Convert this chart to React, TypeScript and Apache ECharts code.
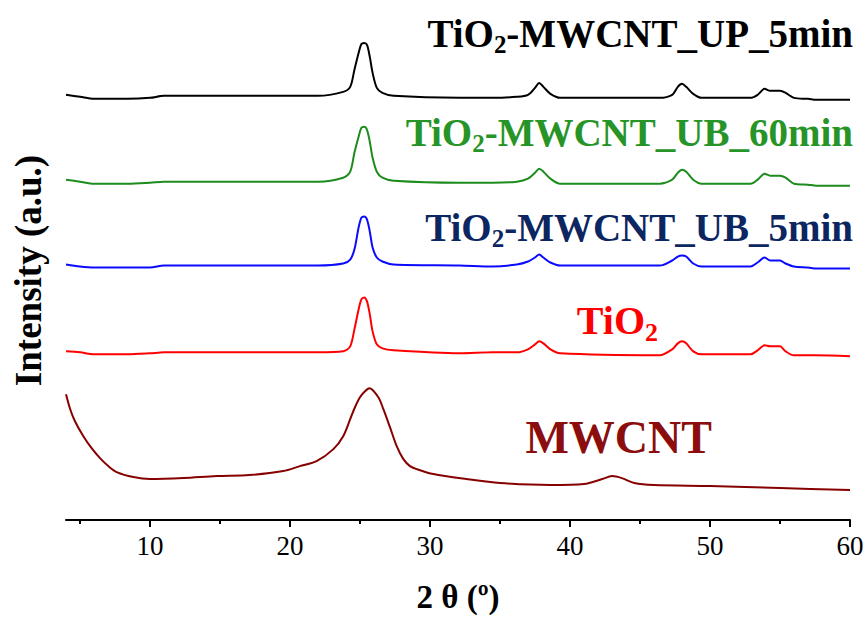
import React, { useEffect, useRef } from "react";
import * as echarts from "echarts";

const FONT = "Liberation Serif, Times New Roman, serif";

// 2θ positions (degrees) sampled for the four TiO2-containing patterns
const tioTheta = [4.0, 5.0, 6.0, 8.4, 10.0, 11.0, 16.0, 22.0, 23.8, 24.3, 24.6, 24.9, 25.1, 25.3, 25.5, 25.7, 25.9, 26.2, 26.6, 27.4, 32.1, 34.5, 36.2, 37.0, 37.5, 37.8, 38.1, 38.6, 39.3, 46.4, 47.3, 47.7, 48.0, 48.3, 48.8, 49.4, 52.9, 53.4, 53.9, 54.3, 54.6, 55.0, 55.4, 56.0, 57.0, 57.6, 60.0];

// Intensities (a.u., stacked with offsets as in the figure)
const upIntensity = [426, 424, 422, 422, 423, 425, 425, 425, 429, 434, 451, 468, 477, 478, 476, 464, 448, 433, 428, 425, 423, 423, 424, 426, 433, 438, 434, 427, 423, 423, 426, 434, 437, 434, 427, 423, 423, 426, 432, 430, 430, 430, 428, 423, 422, 421, 421];
const ub60Intensity = [341, 339, 337, 337, 338, 339, 339, 339, 343, 349, 368, 384, 393, 394, 391, 379, 363, 349, 343, 340, 338, 338, 339, 342, 348, 352, 349, 342, 337, 337, 341, 348, 351, 349, 341, 337, 337, 341, 347, 345, 345, 345, 343, 337, 336, 335, 335];
const ub5Intensity = [256, 254, 253, 253, 253, 255, 255, 255, 257, 261, 271, 293, 303, 304, 301, 289, 273, 263, 259, 256, 255, 254, 256, 259, 263, 266, 263, 258, 255, 255, 260, 264, 265, 264, 257, 254, 254, 258, 263, 260, 260, 260, 257, 254, 253, 252, 252];
const tio2Intensity = [169, 168, 166, 166, 167, 168, 168, 168, 169, 174, 191, 211, 221, 223, 219, 206, 189, 176, 172, 170, 167, 168, 168, 171, 176, 179, 177, 171, 167, 165, 171, 177, 179, 177, 169, 166, 166, 170, 175, 174, 174, 174, 169, 165, 165, 165, 164];

// MWCNT pattern
const cntTheta = [4.0, 4.3, 4.64, 5.24, 5.83, 6.43, 7.02, 7.62, 8.81, 10.0, 12.4, 14.76, 17.1, 19.52, 20.7, 21.9, 23.1, 23.8, 24.3, 24.64, 25.0, 25.36, 25.67, 26.31, 26.67, 27.14, 27.62, 28.1, 28.57, 29.05, 30.24, 32.6, 35.0, 38.6, 41.0, 42.3, 43.0, 43.7, 44.6, 46.0, 50.0, 55.0, 60.0];
const cntIntensity = [126, 111, 99, 84, 72, 62, 54, 48, 43, 41, 42, 44, 45, 49, 54, 59, 71, 84, 101, 113, 123, 129, 132, 123, 111, 93, 74, 61, 54, 51, 46, 41, 37, 35, 36, 41, 44, 42, 37, 35, 34, 32, 30];

const majorTicks = [10, 20, 30, 40, 50, 60];
const minorTicks = [5, 15, 25, 35, 45, 55];
const xMin = 4;
const xMax = 60;
const yMin = 0;
const yMax = 500;

const seriesNames = ["TiO2-MWCNT_UP_5min", "TiO2-MWCNT_UB_60min", "TiO2-MWCNT_UB_5min", "TiO2", "MWCNT"];
const lineColors = ["#000000", "#1c8c1c", "#0a0aff", "#ff0000", "#870000"];

const xTitle = "2 θ (º)";
const yTitle = "Intensity (a.u.)";

function zip(xs: number[], ys: number[]) {
  return xs.map((x, i) => [x, ys[i]]);
}

function sampleLabel(
  right: number,
  cy: number,
  color: string,
  main: string,
  sub: string,
  rest: string,
  size: number
) {
  const subSize = Math.round(size * 0.64);
  let text = `{m|${main}}`;
  if (sub) text += `{s|${sub}}`;
  if (rest) text += `{m|${rest}}`;
  return {
    type: "text",
    x: right,
    y: cy,
    style: {
      text,
      align: "right",
      verticalAlign: "middle",
      rich: {
        m: {
          fontFamily: FONT,
          fontWeight: "bold",
          fontSize: size,
          lineHeight: size * 1.25,
          fill: color,
          verticalAlign: "middle",
        },
        s: {
          fontFamily: FONT,
          fontWeight: "bold",
          fontSize: subSize,
          lineHeight: subSize,
          fill: color,
          verticalAlign: "bottom",
        },
      },
    },
  };
}

export default function App() {
  const ref = useRef<HTMLDivElement>(null);

  useEffect(() => {
    if (!ref.current) return;
    const chart = echarts.init(ref.current, null, { renderer: "svg" });
    const datasets = [
      zip(tioTheta, upIntensity),
      zip(tioTheta, ub60Intensity),
      zip(tioTheta, ub5Intensity),
      zip(tioTheta, tio2Intensity),
      zip(cntTheta, cntIntensity),
    ];
    chart.setOption({
      animation: false,
      backgroundColor: "#ffffff",
      grid: { left: 66, right: 17, top: 21, bottom: 97, containLabel: false },
      xAxis: [
        {
          type: "value",
          min: xMin,
          max: xMax,
          position: "bottom",
          name: xTitle,
          nameLocation: "middle",
          nameGap: 60,
          nameTextStyle: { fontFamily: FONT, fontWeight: "bold", fontSize: 33, color: "#000" },
          axisLine: { show: true, lineStyle: { color: "#000", width: 2 } },
          axisTick: { show: true, customValues: majorTicks, length: 7, inside: false, lineStyle: { color: "#000", width: 2 } },
          axisLabel: { show: true, customValues: majorTicks, margin: 12, fontFamily: FONT, fontSize: 27, color: "#000" },
          splitLine: { show: false },
        },
        {
          type: "value",
          min: xMin,
          max: xMax,
          position: "bottom",
          offset: 0,
          axisLine: { show: false },
          axisTick: { show: true, customValues: minorTicks, length: 4, inside: false, lineStyle: { color: "#000", width: 2 } },
          axisLabel: { show: false },
          splitLine: { show: false },
        },
      ],
      yAxis: {
        type: "value",
        min: yMin,
        max: yMax,
        name: yTitle,
        nameLocation: "middle",
        nameRotate: 90,
        nameGap: 19,
        nameTextStyle: { fontFamily: FONT, fontWeight: "bold", fontSize: 37, color: "#000" },
        axisLine: { show: false },
        axisTick: { show: false },
        axisLabel: { show: false },
        splitLine: { show: false },
      },
      series: datasets.map((d, i) => ({
        name: seriesNames[i],
        type: "line",
        xAxisIndex: 0,
        yAxisIndex: 0,
        data: d,
        showSymbol: false,
        symbol: "none",
        smooth: 0.3,
        lineStyle: { color: lineColors[i], width: 2 },
        emphasis: { disabled: true },
      })),
      graphic: [
        sampleLabel(853, 33, "#000000", "TiO", "2", "-MWCNT_UP_5min", 39),
        sampleLabel(853, 132, "#279427", "TiO", "2", "-MWCNT_UB_60min", 39),
        sampleLabel(853, 227, "#0c2661", "TiO", "2", "-MWCNT_UB_5min", 39),
        sampleLabel(658, 320, "#ff0000", "TiO", "2", "", 40),
        sampleLabel(712, 437, "#8b0d0d", "MWCNT", "", "", 46),
      ],
    });
    return () => chart.dispose();
  }, []);

  return (
    <div
      ref={ref}
      style={{ position: "absolute", left: 0, top: 0, width: 867, height: 618 }}
    />
  );
}
